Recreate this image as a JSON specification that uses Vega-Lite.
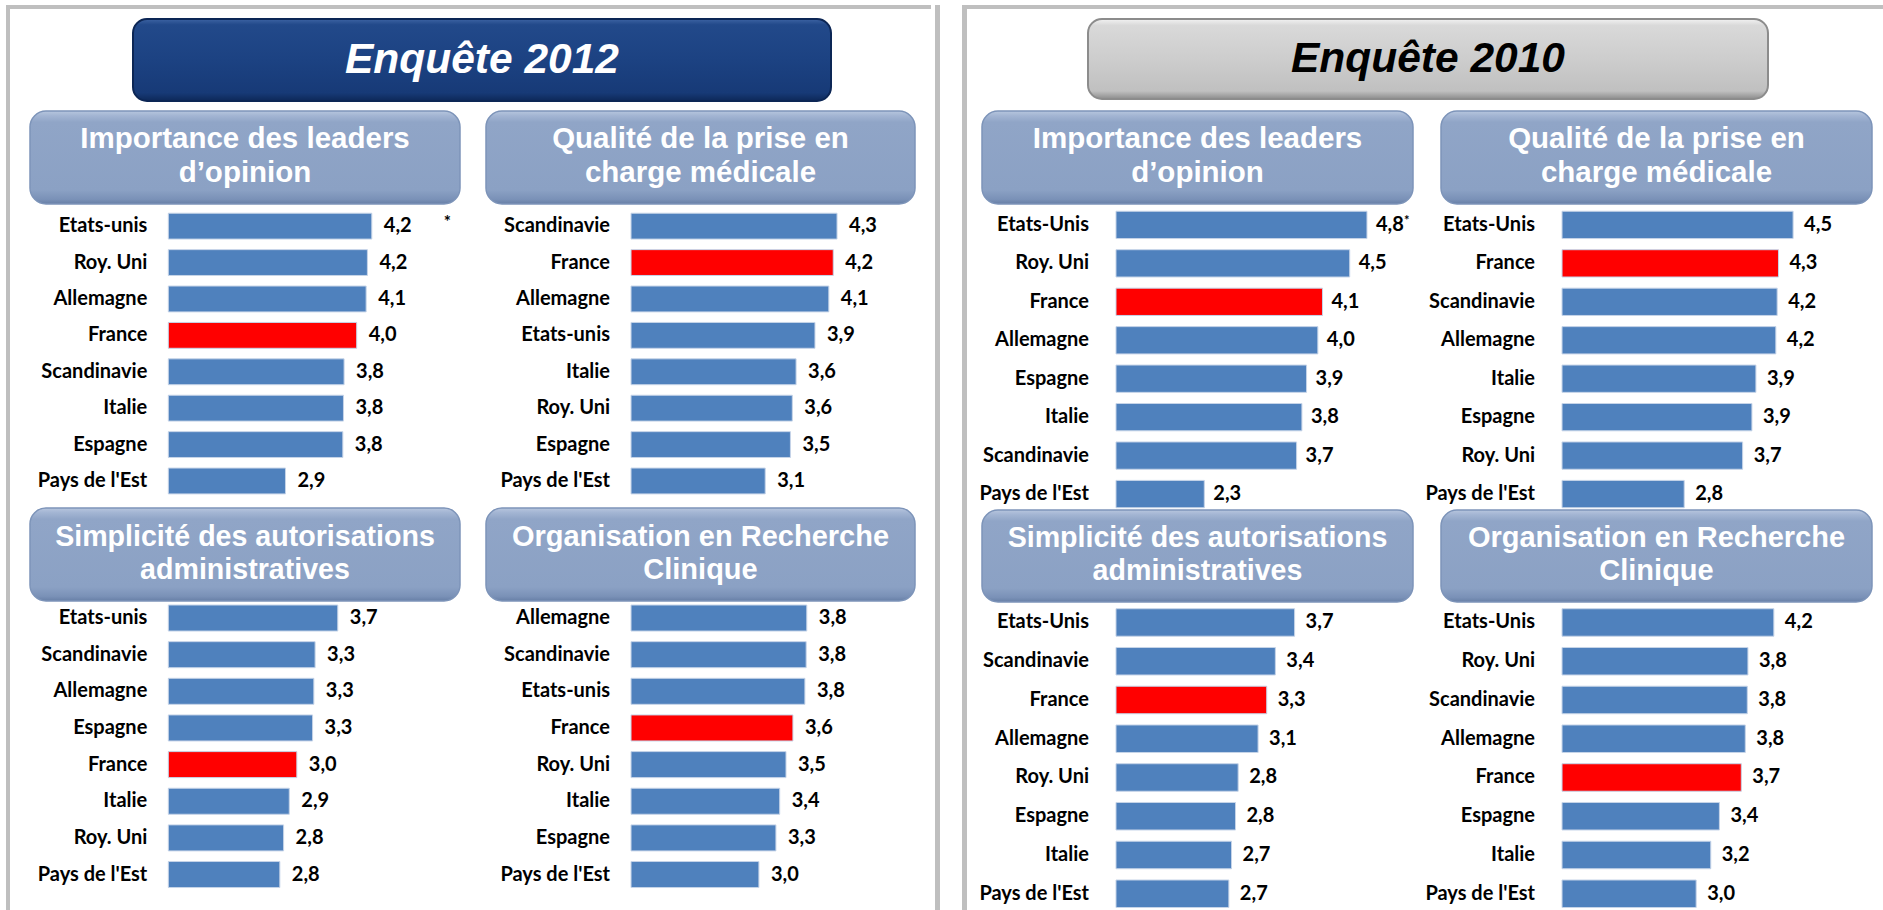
{
  "$schema": "https://vega.github.io/schema/vega-lite/v6.json",
  "padding": {"left": 6, "top": 5, "right": 0, "bottom": 0},
  "background": "white",
  "config": {
    "view": {"stroke": null},
    "concat": {"spacing": 0},
    "locale": {"number": {"decimal": ",", "thousands": " ", "grouping": [3], "currency": ["", " €"]}}
  },
  "datasets": {
    "scores": [
      {"enquete": "2012", "critere": "leaders", "pays": "Etats-unis", "note": 4.23, "renvoi": "*"},
      {"enquete": "2012", "critere": "leaders", "pays": "Roy. Uni", "note": 4.16},
      {"enquete": "2012", "critere": "leaders", "pays": "Allemagne", "note": 4.14},
      {"enquete": "2012", "critere": "leaders", "pays": "France", "note": 3.99},
      {"enquete": "2012", "critere": "leaders", "pays": "Scandinavie", "note": 3.79},
      {"enquete": "2012", "critere": "leaders", "pays": "Italie", "note": 3.78},
      {"enquete": "2012", "critere": "leaders", "pays": "Espagne", "note": 3.77},
      {"enquete": "2012", "critere": "leaders", "pays": "Pays de l'Est", "note": 2.86},
      {"enquete": "2012", "critere": "qualite", "pays": "Scandinavie", "note": 4.27},
      {"enquete": "2012", "critere": "qualite", "pays": "France", "note": 4.21},
      {"enquete": "2012", "critere": "qualite", "pays": "Allemagne", "note": 4.14},
      {"enquete": "2012", "critere": "qualite", "pays": "Etats-unis", "note": 3.92},
      {"enquete": "2012", "critere": "qualite", "pays": "Italie", "note": 3.62},
      {"enquete": "2012", "critere": "qualite", "pays": "Roy. Uni", "note": 3.56},
      {"enquete": "2012", "critere": "qualite", "pays": "Espagne", "note": 3.53},
      {"enquete": "2012", "critere": "qualite", "pays": "Pays de l'Est", "note": 3.13},
      {"enquete": "2012", "critere": "simplicite", "pays": "Etats-unis", "note": 3.69},
      {"enquete": "2012", "critere": "simplicite", "pays": "Scandinavie", "note": 3.33},
      {"enquete": "2012", "critere": "simplicite", "pays": "Allemagne", "note": 3.31},
      {"enquete": "2012", "critere": "simplicite", "pays": "Espagne", "note": 3.29},
      {"enquete": "2012", "critere": "simplicite", "pays": "France", "note": 3.04},
      {"enquete": "2012", "critere": "simplicite", "pays": "Italie", "note": 2.92},
      {"enquete": "2012", "critere": "simplicite", "pays": "Roy. Uni", "note": 2.83},
      {"enquete": "2012", "critere": "simplicite", "pays": "Pays de l'Est", "note": 2.77},
      {"enquete": "2012", "critere": "organisation", "pays": "Allemagne", "note": 3.79},
      {"enquete": "2012", "critere": "organisation", "pays": "Scandinavie", "note": 3.78},
      {"enquete": "2012", "critere": "organisation", "pays": "Etats-unis", "note": 3.76},
      {"enquete": "2012", "critere": "organisation", "pays": "France", "note": 3.57},
      {"enquete": "2012", "critere": "organisation", "pays": "Roy. Uni", "note": 3.46},
      {"enquete": "2012", "critere": "organisation", "pays": "Italie", "note": 3.36},
      {"enquete": "2012", "critere": "organisation", "pays": "Espagne", "note": 3.3},
      {"enquete": "2012", "critere": "organisation", "pays": "Pays de l'Est", "note": 3.03},
      {"enquete": "2010", "critere": "leaders", "pays": "Etats-Unis", "note": 4.78, "renvoi": "*"},
      {"enquete": "2010", "critere": "leaders", "pays": "Roy. Uni", "note": 4.52},
      {"enquete": "2010", "critere": "leaders", "pays": "France", "note": 4.11},
      {"enquete": "2010", "critere": "leaders", "pays": "Allemagne", "note": 4.04},
      {"enquete": "2010", "critere": "leaders", "pays": "Espagne", "note": 3.87},
      {"enquete": "2010", "critere": "leaders", "pays": "Italie", "note": 3.8},
      {"enquete": "2010", "critere": "leaders", "pays": "Scandinavie", "note": 3.72},
      {"enquete": "2010", "critere": "leaders", "pays": "Pays de l'Est", "note": 2.33},
      {"enquete": "2010", "critere": "qualite", "pays": "Etats-Unis", "note": 4.48},
      {"enquete": "2010", "critere": "qualite", "pays": "France", "note": 4.26},
      {"enquete": "2010", "critere": "qualite", "pays": "Scandinavie", "note": 4.24},
      {"enquete": "2010", "critere": "qualite", "pays": "Allemagne", "note": 4.22},
      {"enquete": "2010", "critere": "qualite", "pays": "Italie", "note": 3.92},
      {"enquete": "2010", "critere": "qualite", "pays": "Espagne", "note": 3.86},
      {"enquete": "2010", "critere": "qualite", "pays": "Roy. Uni", "note": 3.72},
      {"enquete": "2010", "critere": "qualite", "pays": "Pays de l'Est", "note": 2.84},
      {"enquete": "2010", "critere": "simplicite", "pays": "Etats-Unis", "note": 3.69},
      {"enquete": "2010", "critere": "simplicite", "pays": "Scandinavie", "note": 3.4},
      {"enquete": "2010", "critere": "simplicite", "pays": "France", "note": 3.27},
      {"enquete": "2010", "critere": "simplicite", "pays": "Allemagne", "note": 3.14},
      {"enquete": "2010", "critere": "simplicite", "pays": "Roy. Uni", "note": 2.84},
      {"enquete": "2010", "critere": "simplicite", "pays": "Espagne", "note": 2.8},
      {"enquete": "2010", "critere": "simplicite", "pays": "Italie", "note": 2.74},
      {"enquete": "2010", "critere": "simplicite", "pays": "Pays de l'Est", "note": 2.7},
      {"enquete": "2010", "critere": "organisation", "pays": "Etats-Unis", "note": 4.19},
      {"enquete": "2010", "critere": "organisation", "pays": "Roy. Uni", "note": 3.8},
      {"enquete": "2010", "critere": "organisation", "pays": "Scandinavie", "note": 3.79},
      {"enquete": "2010", "critere": "organisation", "pays": "Allemagne", "note": 3.76},
      {"enquete": "2010", "critere": "organisation", "pays": "France", "note": 3.7},
      {"enquete": "2010", "critere": "organisation", "pays": "Espagne", "note": 3.37},
      {"enquete": "2010", "critere": "organisation", "pays": "Italie", "note": 3.24},
      {"enquete": "2010", "critere": "organisation", "pays": "Pays de l'Est", "note": 3.02}
    ]
  },
  "spacing": 22,
  "hconcat": [
    {
      "spacing": 0,
      "hconcat": [
        {"width": 4, "height": 905, "view": {"fill": "#bfbfbf"}, "data": {"values": [{}]}, "mark": {"type": "point", "size": 0, "strokeWidth": 0, "opacity": 0}},
        {
          "spacing": 0,
          "vconcat": [
            {"width": 921, "height": 4, "view": {"fill": "#bfbfbf"}, "data": {"values": [{}]}, "mark": {"type": "point", "size": 0, "strokeWidth": 0, "opacity": 0}},
            {"width": 1, "height": 9, "data": {"values": [{}]}, "mark": {"type": "point", "size": 0, "strokeWidth": 0, "opacity": 0}},
            {
              "spacing": 0,
              "hconcat": [
                {"width": 122, "height": 82, "data": {"values": [{}]}, "mark": {"type": "point", "size": 0, "strokeWidth": 0, "opacity": 0}},
                {"width": 698, "height": 82,
                 "view": {"cornerRadius": 14, "stroke": "#0c2655", "strokeWidth": 2,
                          "fill": {"gradient": "linear", "x1": 0, "y1": 0, "x2": 0, "y2": 1, "stops": [{"offset": 0, "color": "#3d63a3"}, {"offset": 0.07, "color": "#22498a"}, {"offset": 0.5, "color": "#1c4282"}, {"offset": 0.9, "color": "#173a77"}, {"offset": 1, "color": "#0d2858"}]}},
                 "data": {"values": [{"titre": "Enquête 2012"}]},
                 "mark": {"type": "text", "font": "Liberation Sans", "fontSize": 42.5, "fontWeight": "bold", "fontStyle": "italic", "color": "#ffffff"},
                 "encoding": {"text": {"field": "titre"}}}
              ]
            },
            {"width": 1, "height": 8, "data": {"values": [{}]}, "mark": {"type": "point", "size": 0, "strokeWidth": 0, "opacity": 0}},
            {
              "spacing": 0,
              "hconcat": [
                {"width": 19, "height": 93, "data": {"values": [{}]}, "mark": {"type": "point", "size": 0, "strokeWidth": 0, "opacity": 0}},
                {"width": 430, "height": 93,
                 "view": {"cornerRadius": 16, "stroke": "#7d94b9", "strokeWidth": 1.5,
                          "fill": {"gradient": "linear", "x1": 0, "y1": 0, "x2": 0, "y2": 1, "stops": [{"offset": 0, "color": "#b7c6de"}, {"offset": 0.05, "color": "#a3b5d3"}, {"offset": 0.12, "color": "#90a5c7"}, {"offset": 0.85, "color": "#8ba1c4"}, {"offset": 0.95, "color": "#7a91b7"}, {"offset": 1, "color": "#677fa6"}]}},
                 "data": {"values": [{"titre": "Importance des leaders\nd’opinion"}]},
                 "mark": {"type": "text", "font": "Liberation Sans", "fontSize": 29.5, "fontWeight": "bold", "color": "#ffffff", "lineBreak": "\n", "lineHeight": 34, "dy": -19},
                 "encoding": {"text": {"field": "titre"}}},
                {"width": 24, "height": 93, "data": {"values": [{}]}, "mark": {"type": "point", "size": 0, "strokeWidth": 0, "opacity": 0}},
                {"width": 429, "height": 93,
                 "view": {"cornerRadius": 16, "stroke": "#7d94b9", "strokeWidth": 1.5,
                          "fill": {"gradient": "linear", "x1": 0, "y1": 0, "x2": 0, "y2": 1, "stops": [{"offset": 0, "color": "#b7c6de"}, {"offset": 0.05, "color": "#a3b5d3"}, {"offset": 0.12, "color": "#90a5c7"}, {"offset": 0.85, "color": "#8ba1c4"}, {"offset": 0.95, "color": "#7a91b7"}, {"offset": 1, "color": "#677fa6"}]}},
                 "data": {"values": [{"titre": "Qualité de la prise en\ncharge médicale"}]},
                 "mark": {"type": "text", "font": "Liberation Sans", "fontSize": 29.5, "fontWeight": "bold", "color": "#ffffff", "lineBreak": "\n", "lineHeight": 34, "dy": -19},
                 "encoding": {"text": {"field": "titre"}}},
                {"width": 19, "height": 93, "data": {"values": [{}]}, "mark": {"type": "point", "size": 0, "strokeWidth": 0, "opacity": 0}}
              ]
            },
            {
              "spacing": 0,
              "hconcat": [
                {"width": 449, "height": 302,
                 "data": {"name": "scores"},
                 "transform": [{"filter": "datum.enquete === '2012' && datum.critere === 'leaders'"}],
                 "encoding": {"y": {"field": "pays", "type": "nominal", "sort": null, "scale": {"paddingInner": 0.29, "paddingOuter": 0.293, "align": 0.386}, "axis": null}},
                 "layer": [
                   {"mark": {"type": "bar", "stroke": "#c6d4e8", "strokeWidth": 1},
                    "encoding": {"x": {"field": "note", "type": "quantitative", "scale": {"domain": [-1.513, 5.614], "nice": false, "zero": false}, "axis": null}, "x2": {"datum": 1},
                                 "color": {"condition": {"test": "datum.pays === 'France'", "value": "#ff0000"}, "value": "#4f81bd"}}},
                   {"mark": {"type": "text", "align": "left", "dx": 12, "font": "Lato", "fontWeight": "bold", "fontSize": 20, "color": "#000000"},
                    "encoding": {"x": {"field": "note", "type": "quantitative"}, "text": {"field": "note", "type": "quantitative", "format": ".1f"}}},
                   {"mark": {"type": "text", "align": "right", "dx": -21, "font": "Lato", "fontWeight": "bold", "fontSize": 20, "color": "#000000"},
                    "encoding": {"x": {"datum": 1, "type": "quantitative"}, "text": {"field": "pays"}}},
                   {"transform": [{"filter": "datum.renvoi"}],
                    "mark": {"type": "text", "align": "left", "dx": 72, "dy": -3, "font": "Lato", "fontWeight": "bold", "fontSize": 17, "color": "#000000"},
                    "encoding": {"x": {"field": "note", "type": "quantitative"}, "text": {"field": "renvoi"}}}
                 ]},
                {"width": 11, "height": 302, "data": {"values": [{}]}, "mark": {"type": "point", "size": 0, "strokeWidth": 0, "opacity": 0}},
                {"width": 442, "height": 302,
                 "data": {"name": "scores"},
                 "transform": [{"filter": "datum.enquete === '2012' && datum.critere === 'qualite'"}],
                 "encoding": {"y": {"field": "pays", "type": "nominal", "sort": null, "scale": {"paddingInner": 0.29, "paddingOuter": 0.293, "align": 0.386}, "axis": null}},
                 "layer": [
                   {"mark": {"type": "bar", "stroke": "#c6d4e8", "strokeWidth": 1},
                    "encoding": {"x": {"field": "note", "type": "quantitative", "scale": {"domain": [-1.556, 5.46], "nice": false, "zero": false}, "axis": null}, "x2": {"datum": 1},
                                 "color": {"condition": {"test": "datum.pays === 'France'", "value": "#ff0000"}, "value": "#4f81bd"}}},
                   {"mark": {"type": "text", "align": "left", "dx": 12, "font": "Lato", "fontWeight": "bold", "fontSize": 20, "color": "#000000"},
                    "encoding": {"x": {"field": "note", "type": "quantitative"}, "text": {"field": "note", "type": "quantitative", "format": ".1f"}}},
                   {"mark": {"type": "text", "align": "right", "dx": -21, "font": "Lato", "fontWeight": "bold", "fontSize": 20, "color": "#000000"},
                    "encoding": {"x": {"datum": 1, "type": "quantitative"}, "text": {"field": "pays"}}}
                 ]}
              ]
            },
            {
              "spacing": 0,
              "hconcat": [
                {"width": 19, "height": 93, "data": {"values": [{}]}, "mark": {"type": "point", "size": 0, "strokeWidth": 0, "opacity": 0}},
                {"width": 430, "height": 93,
                 "view": {"cornerRadius": 16, "stroke": "#7d94b9", "strokeWidth": 1.5,
                          "fill": {"gradient": "linear", "x1": 0, "y1": 0, "x2": 0, "y2": 1, "stops": [{"offset": 0, "color": "#b7c6de"}, {"offset": 0.05, "color": "#a3b5d3"}, {"offset": 0.12, "color": "#90a5c7"}, {"offset": 0.85, "color": "#8ba1c4"}, {"offset": 0.95, "color": "#7a91b7"}, {"offset": 1, "color": "#677fa6"}]}},
                 "data": {"values": [{"titre": "Simplicité des autorisations\nadministratives"}]},
                 "mark": {"type": "text", "font": "Liberation Sans", "fontSize": 28.6, "fontWeight": "bold", "color": "#ffffff", "lineBreak": "\n", "lineHeight": 33, "dy": -18},
                 "encoding": {"text": {"field": "titre"}}},
                {"width": 24, "height": 93, "data": {"values": [{}]}, "mark": {"type": "point", "size": 0, "strokeWidth": 0, "opacity": 0}},
                {"width": 429, "height": 93,
                 "view": {"cornerRadius": 16, "stroke": "#7d94b9", "strokeWidth": 1.5,
                          "fill": {"gradient": "linear", "x1": 0, "y1": 0, "x2": 0, "y2": 1, "stops": [{"offset": 0, "color": "#b7c6de"}, {"offset": 0.05, "color": "#a3b5d3"}, {"offset": 0.12, "color": "#90a5c7"}, {"offset": 0.85, "color": "#8ba1c4"}, {"offset": 0.95, "color": "#7a91b7"}, {"offset": 1, "color": "#677fa6"}]}},
                 "data": {"values": [{"titre": "Organisation en Recherche\nClinique"}]},
                 "mark": {"type": "text", "font": "Liberation Sans", "fontSize": 29, "fontWeight": "bold", "color": "#ffffff", "lineBreak": "\n", "lineHeight": 33, "dy": -18},
                 "encoding": {"text": {"field": "titre"}}},
                {"width": 19, "height": 93, "data": {"values": [{}]}, "mark": {"type": "point", "size": 0, "strokeWidth": 0, "opacity": 0}}
              ]
            },
            {
              "spacing": 0,
              "hconcat": [
                {"width": 449, "height": 310,
                 "data": {"name": "scores"},
                 "transform": [{"filter": "datum.enquete === '2012' && datum.critere === 'simplicite'"}],
                 "encoding": {"y": {"field": "pays", "type": "nominal", "sort": null, "scale": {"paddingInner": 0.29, "paddingOuter": 0.375, "align": 0.11}, "axis": null}},
                 "layer": [
                   {"mark": {"type": "bar", "stroke": "#c6d4e8", "strokeWidth": 1},
                    "encoding": {"x": {"field": "note", "type": "quantitative", "scale": {"domain": [-1.513, 5.614], "nice": false, "zero": false}, "axis": null}, "x2": {"datum": 1},
                                 "color": {"condition": {"test": "datum.pays === 'France'", "value": "#ff0000"}, "value": "#4f81bd"}}},
                   {"mark": {"type": "text", "align": "left", "dx": 12, "font": "Lato", "fontWeight": "bold", "fontSize": 20, "color": "#000000"},
                    "encoding": {"x": {"field": "note", "type": "quantitative"}, "text": {"field": "note", "type": "quantitative", "format": ".1f"}}},
                   {"mark": {"type": "text", "align": "right", "dx": -21, "font": "Lato", "fontWeight": "bold", "fontSize": 20, "color": "#000000"},
                    "encoding": {"x": {"datum": 1, "type": "quantitative"}, "text": {"field": "pays"}}}
                 ]},
                {"width": 11, "height": 310, "data": {"values": [{}]}, "mark": {"type": "point", "size": 0, "strokeWidth": 0, "opacity": 0}},
                {"width": 442, "height": 310,
                 "data": {"name": "scores"},
                 "transform": [{"filter": "datum.enquete === '2012' && datum.critere === 'organisation'"}],
                 "encoding": {"y": {"field": "pays", "type": "nominal", "sort": null, "scale": {"paddingInner": 0.29, "paddingOuter": 0.375, "align": 0.11}, "axis": null}},
                 "layer": [
                   {"mark": {"type": "bar", "stroke": "#c6d4e8", "strokeWidth": 1},
                    "encoding": {"x": {"field": "note", "type": "quantitative", "scale": {"domain": [-1.556, 5.46], "nice": false, "zero": false}, "axis": null}, "x2": {"datum": 1},
                                 "color": {"condition": {"test": "datum.pays === 'France'", "value": "#ff0000"}, "value": "#4f81bd"}}},
                   {"mark": {"type": "text", "align": "left", "dx": 12, "font": "Lato", "fontWeight": "bold", "fontSize": 20, "color": "#000000"},
                    "encoding": {"x": {"field": "note", "type": "quantitative"}, "text": {"field": "note", "type": "quantitative", "format": ".1f"}}},
                   {"mark": {"type": "text", "align": "right", "dx": -21, "font": "Lato", "fontWeight": "bold", "fontSize": 20, "color": "#000000"},
                    "encoding": {"x": {"datum": 1, "type": "quantitative"}, "text": {"field": "pays"}}}
                 ]}
              ]
            }
          ]
        },
        {"width": 5, "height": 905, "view": {"fill": "#bfbfbf"}, "data": {"values": [{}]}, "mark": {"type": "point", "size": 0, "strokeWidth": 0, "opacity": 0}}
      ]
    },
    {
      "spacing": 0,
      "hconcat": [
        {"width": 5, "height": 905, "view": {"fill": "#bfbfbf"}, "data": {"values": [{}]}, "mark": {"type": "point", "size": 0, "strokeWidth": 0, "opacity": 0}},
        {
          "spacing": 0,
          "vconcat": [
            {"width": 930, "height": 4, "view": {"fill": "#bfbfbf"}, "data": {"values": [{}]}, "mark": {"type": "point", "size": 0, "strokeWidth": 0, "opacity": 0}},
            {"width": 1, "height": 9, "data": {"values": [{}]}, "mark": {"type": "point", "size": 0, "strokeWidth": 0, "opacity": 0}},
            {
              "spacing": 0,
              "hconcat": [
                {"width": 120, "height": 80, "data": {"values": [{}]}, "mark": {"type": "point", "size": 0, "strokeWidth": 0, "opacity": 0}},
                {"width": 680, "height": 80,
                 "view": {"cornerRadius": 14, "stroke": "#8c8c8c", "strokeWidth": 2,
                          "fill": {"gradient": "linear", "x1": 0, "y1": 0, "x2": 0, "y2": 1, "stops": [{"offset": 0, "color": "#f2f2f2"}, {"offset": 0.08, "color": "#d9d9d9"}, {"offset": 0.5, "color": "#cdcdcd"}, {"offset": 0.9, "color": "#c0c0c0"}, {"offset": 1, "color": "#8c8c8c"}]}},
                 "data": {"values": [{"titre": "Enquête 2010"}]},
                 "mark": {"type": "text", "font": "Liberation Sans", "fontSize": 42.5, "fontWeight": "bold", "fontStyle": "italic", "color": "#000000"},
                 "encoding": {"text": {"field": "titre"}}}
              ]
            },
            {"width": 1, "height": 10, "data": {"values": [{}]}, "mark": {"type": "point", "size": 0, "strokeWidth": 0, "opacity": 0}},
            {
              "spacing": 0,
              "hconcat": [
                {"width": 14, "height": 93, "data": {"values": [{}]}, "mark": {"type": "point", "size": 0, "strokeWidth": 0, "opacity": 0}},
                {"width": 431, "height": 93,
                 "view": {"cornerRadius": 16, "stroke": "#7d94b9", "strokeWidth": 1.5,
                          "fill": {"gradient": "linear", "x1": 0, "y1": 0, "x2": 0, "y2": 1, "stops": [{"offset": 0, "color": "#b7c6de"}, {"offset": 0.05, "color": "#a3b5d3"}, {"offset": 0.12, "color": "#90a5c7"}, {"offset": 0.85, "color": "#8ba1c4"}, {"offset": 0.95, "color": "#7a91b7"}, {"offset": 1, "color": "#677fa6"}]}},
                 "data": {"values": [{"titre": "Importance des leaders\nd’opinion"}]},
                 "mark": {"type": "text", "font": "Liberation Sans", "fontSize": 29.5, "fontWeight": "bold", "color": "#ffffff", "lineBreak": "\n", "lineHeight": 34, "dy": -19},
                 "encoding": {"text": {"field": "titre"}}},
                {"width": 26, "height": 93, "data": {"values": [{}]}, "mark": {"type": "point", "size": 0, "strokeWidth": 0, "opacity": 0}},
                {"width": 431, "height": 93,
                 "view": {"cornerRadius": 16, "stroke": "#7d94b9", "strokeWidth": 1.5,
                          "fill": {"gradient": "linear", "x1": 0, "y1": 0, "x2": 0, "y2": 1, "stops": [{"offset": 0, "color": "#b7c6de"}, {"offset": 0.05, "color": "#a3b5d3"}, {"offset": 0.12, "color": "#90a5c7"}, {"offset": 0.85, "color": "#8ba1c4"}, {"offset": 0.95, "color": "#7a91b7"}, {"offset": 1, "color": "#677fa6"}]}},
                 "data": {"values": [{"titre": "Qualité de la prise en\ncharge médicale"}]},
                 "mark": {"type": "text", "font": "Liberation Sans", "fontSize": 29.5, "fontWeight": "bold", "color": "#ffffff", "lineBreak": "\n", "lineHeight": 34, "dy": -19},
                 "encoding": {"text": {"field": "titre"}}}
              ]
            },
            {
              "spacing": 0,
              "hconcat": [
                {"width": 445, "height": 303,
                 "data": {"name": "scores"},
                 "transform": [{"filter": "datum.enquete === '2010' && datum.critere === 'leaders'"}],
                 "encoding": {"y": {"field": "pays", "type": "nominal", "sort": null, "scale": {"paddingInner": 0.29, "paddingOuter": 0.0853, "align": 0.955}, "axis": null}},
                 "layer": [
                   {"mark": {"type": "bar", "stroke": "#c6d4e8", "strokeWidth": 1},
                    "encoding": {"x": {"field": "note", "type": "quantitative", "scale": {"domain": [-1.244, 5.458], "nice": false, "zero": false}, "axis": null}, "x2": {"datum": 1},
                                 "color": {"condition": {"test": "datum.pays === 'France'", "value": "#ff0000"}, "value": "#4f81bd"}}},
                   {"mark": {"type": "text", "align": "left", "dx": 9, "font": "Lato", "fontWeight": "bold", "fontSize": 20, "color": "#000000"},
                    "encoding": {"x": {"field": "note", "type": "quantitative"}, "text": {"field": "note", "type": "quantitative", "format": ".1f"}}},
                   {"mark": {"type": "text", "align": "right", "dx": -27, "font": "Lato", "fontWeight": "bold", "fontSize": 20, "color": "#000000"},
                    "encoding": {"x": {"datum": 1, "type": "quantitative"}, "text": {"field": "pays"}}},
                   {"transform": [{"filter": "datum.renvoi"}],
                    "mark": {"type": "text", "align": "left", "dx": 37, "dy": -4, "font": "Lato", "fontWeight": "bold", "fontSize": 13, "color": "#000000"},
                    "encoding": {"x": {"field": "note", "type": "quantitative"}, "text": {"field": "renvoi"}}}
                 ]},
                {"width": 8, "height": 303, "data": {"values": [{}]}, "mark": {"type": "point", "size": 0, "strokeWidth": 0, "opacity": 0}},
                {"width": 449, "height": 303,
                 "data": {"name": "scores"},
                 "transform": [{"filter": "datum.enquete === '2010' && datum.critere === 'qualite'"}],
                 "encoding": {"y": {"field": "pays", "type": "nominal", "sort": null, "scale": {"paddingInner": 0.29, "paddingOuter": 0.0853, "align": 0.955}, "axis": null}},
                 "layer": [
                   {"mark": {"type": "bar", "stroke": "#c6d4e8", "strokeWidth": 1},
                    "encoding": {"x": {"field": "note", "type": "quantitative", "scale": {"domain": [-1.139, 5.623], "nice": false, "zero": false}, "axis": null}, "x2": {"datum": 1},
                                 "color": {"condition": {"test": "datum.pays === 'France'", "value": "#ff0000"}, "value": "#4f81bd"}}},
                   {"mark": {"type": "text", "align": "left", "dx": 11, "font": "Lato", "fontWeight": "bold", "fontSize": 20, "color": "#000000"},
                    "encoding": {"x": {"field": "note", "type": "quantitative"}, "text": {"field": "note", "type": "quantitative", "format": ".1f"}}},
                   {"mark": {"type": "text", "align": "right", "dx": -27, "font": "Lato", "fontWeight": "bold", "fontSize": 20, "color": "#000000"},
                    "encoding": {"x": {"datum": 1, "type": "quantitative"}, "text": {"field": "pays"}}}
                 ]}
              ]
            },
            {
              "spacing": 0,
              "hconcat": [
                {"width": 14, "height": 92, "data": {"values": [{}]}, "mark": {"type": "point", "size": 0, "strokeWidth": 0, "opacity": 0}},
                {"width": 431, "height": 92,
                 "view": {"cornerRadius": 16, "stroke": "#7d94b9", "strokeWidth": 1.5,
                          "fill": {"gradient": "linear", "x1": 0, "y1": 0, "x2": 0, "y2": 1, "stops": [{"offset": 0, "color": "#b7c6de"}, {"offset": 0.05, "color": "#a3b5d3"}, {"offset": 0.12, "color": "#90a5c7"}, {"offset": 0.85, "color": "#8ba1c4"}, {"offset": 0.95, "color": "#7a91b7"}, {"offset": 1, "color": "#677fa6"}]}},
                 "data": {"values": [{"titre": "Simplicité des autorisations\nadministratives"}]},
                 "mark": {"type": "text", "font": "Liberation Sans", "fontSize": 28.6, "fontWeight": "bold", "color": "#ffffff", "lineBreak": "\n", "lineHeight": 33, "dy": -18},
                 "encoding": {"text": {"field": "titre"}}},
                {"width": 26, "height": 92, "data": {"values": [{}]}, "mark": {"type": "point", "size": 0, "strokeWidth": 0, "opacity": 0}},
                {"width": 431, "height": 92,
                 "view": {"cornerRadius": 16, "stroke": "#7d94b9", "strokeWidth": 1.5,
                          "fill": {"gradient": "linear", "x1": 0, "y1": 0, "x2": 0, "y2": 1, "stops": [{"offset": 0, "color": "#b7c6de"}, {"offset": 0.05, "color": "#a3b5d3"}, {"offset": 0.12, "color": "#90a5c7"}, {"offset": 0.85, "color": "#8ba1c4"}, {"offset": 0.95, "color": "#7a91b7"}, {"offset": 1, "color": "#677fa6"}]}},
                 "data": {"values": [{"titre": "Organisation en Recherche\nClinique"}]},
                 "mark": {"type": "text", "font": "Liberation Sans", "fontSize": 29, "fontWeight": "bold", "color": "#ffffff", "lineBreak": "\n", "lineHeight": 33, "dy": -18},
                 "encoding": {"text": {"field": "titre"}}}
              ]
            },
            {
              "spacing": 0,
              "hconcat": [
                {"width": 445, "height": 310,
                 "data": {"name": "scores"},
                 "transform": [{"filter": "datum.enquete === '2010' && datum.critere === 'simplicite'"}],
                 "encoding": {"y": {"field": "pays", "type": "nominal", "sort": null, "scale": {"paddingInner": 0.29, "paddingOuter": 0.1447, "align": 0.51}, "axis": null}},
                 "layer": [
                   {"mark": {"type": "bar", "stroke": "#c6d4e8", "strokeWidth": 1},
                    "encoding": {"x": {"field": "note", "type": "quantitative", "scale": {"domain": [-1.244, 5.458], "nice": false, "zero": false}, "axis": null}, "x2": {"datum": 1},
                                 "color": {"condition": {"test": "datum.pays === 'France'", "value": "#ff0000"}, "value": "#4f81bd"}}},
                   {"mark": {"type": "text", "align": "left", "dx": 11, "font": "Lato", "fontWeight": "bold", "fontSize": 20, "color": "#000000"},
                    "encoding": {"x": {"field": "note", "type": "quantitative"}, "text": {"field": "note", "type": "quantitative", "format": ".1f"}}},
                   {"mark": {"type": "text", "align": "right", "dx": -27, "font": "Lato", "fontWeight": "bold", "fontSize": 20, "color": "#000000"},
                    "encoding": {"x": {"datum": 1, "type": "quantitative"}, "text": {"field": "pays"}}}
                 ]},
                {"width": 8, "height": 310, "data": {"values": [{}]}, "mark": {"type": "point", "size": 0, "strokeWidth": 0, "opacity": 0}},
                {"width": 449, "height": 310,
                 "data": {"name": "scores"},
                 "transform": [{"filter": "datum.enquete === '2010' && datum.critere === 'organisation'"}],
                 "encoding": {"y": {"field": "pays", "type": "nominal", "sort": null, "scale": {"paddingInner": 0.29, "paddingOuter": 0.1447, "align": 0.51}, "axis": null}},
                 "layer": [
                   {"mark": {"type": "bar", "stroke": "#c6d4e8", "strokeWidth": 1},
                    "encoding": {"x": {"field": "note", "type": "quantitative", "scale": {"domain": [-1.139, 5.623], "nice": false, "zero": false}, "axis": null}, "x2": {"datum": 1},
                                 "color": {"condition": {"test": "datum.pays === 'France'", "value": "#ff0000"}, "value": "#4f81bd"}}},
                   {"mark": {"type": "text", "align": "left", "dx": 11, "font": "Lato", "fontWeight": "bold", "fontSize": 20, "color": "#000000"},
                    "encoding": {"x": {"field": "note", "type": "quantitative"}, "text": {"field": "note", "type": "quantitative", "format": ".1f"}}},
                   {"mark": {"type": "text", "align": "right", "dx": -27, "font": "Lato", "fontWeight": "bold", "fontSize": 20, "color": "#000000"},
                    "encoding": {"x": {"datum": 1, "type": "quantitative"}, "text": {"field": "pays"}}}
                 ]}
              ]
            }
          ]
        }
      ]
    }
  ]
}
